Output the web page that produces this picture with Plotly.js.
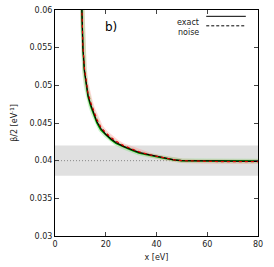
<!DOCTYPE html>
<html><head><meta charset="utf-8">
<script src="https://cdn.plot.ly/plotly-3.0.1.min.js"></script>
<style>html,body{margin:0;padding:0;background:#fff}#chart{width:274px;height:267px}</style>
</head><body><div id="chart"></div>
<script>
const xValues = [10.2, 10.6, 11.0, 11.6, 12.3, 13.0, 14.0, 15.0, 16.5, 18, 20, 22, 24, 27, 30, 33, 37, 42, 47, 50, 55, 60, 65, 70, 75, 80];
const exact   = [0.0650, 0.0600, 0.0550, 0.0520, 0.0500, 0.0487, 0.0475, 0.0465, 0.0452, 0.0443, 0.0435, 0.0429, 0.0424, 0.0419, 0.0415, 0.0411, 0.0408, 0.0404, 0.0401, 0.0400, 0.0400, 0.0399, 0.0399, 0.0399, 0.0399, 0.0399];
const noiseRed   = [0.0652, 0.0602, 0.0553, 0.0523, 0.0503, 0.0490, 0.0478, 0.0468, 0.0455, 0.0445, 0.0437, 0.0431, 0.0426, 0.0420, 0.0416, 0.0412, 0.0408, 0.0404, 0.0401, 0.0400, 0.03993, 0.03988, 0.03987, 0.03988, 0.03987, 0.03988];
const noiseGreen = [0.0648, 0.0598, 0.0548, 0.0518, 0.0498, 0.0485, 0.0473, 0.0463, 0.0450, 0.0441, 0.0434, 0.0428, 0.0423, 0.0418, 0.0414, 0.0410, 0.0407, 0.0404, 0.0401, 0.0400, 0.03998, 0.03996, 0.03996, 0.03997, 0.03997, 0.03997];
const bandX = [0, 80];
const bandLow = [0.038, 0.038];
const bandHigh = [0.042, 0.042];
const refLevel = [0.04, 0.04];
const xTicks = [0, 20, 40, 60, 80];
const yTicks = [0.03, 0.035, 0.04, 0.045, 0.05, 0.055, 0.06];
const yTickText = ["0.03", "0.035", "0.04", "0.045", "0.05", "0.055", "0.06"];
const legendNames = ["exact", "noise"];

const traces = [
  {x: bandX, y: bandLow, mode: 'lines', line: {width: 0}, hoverinfo: 'skip'},
  {x: bandX, y: bandHigh, mode: 'lines', line: {width: 0}, fill: 'tonexty', fillcolor: '#e0e0e0', hoverinfo: 'skip'},
  {x: bandX, y: refLevel, mode: 'lines', line: {color: '#888', width: 1, dash: '1px,2px'}},
  {x: xValues, y: noiseRed, mode: 'lines', line: {color: 'rgba(255,140,140,0.35)', width: 4.5}},
  {x: xValues, y: noiseGreen, mode: 'lines', line: {color: 'rgba(120,220,120,0.35)', width: 4.5}},
  {x: xValues, y: noiseGreen, mode: 'lines', line: {color: '#00a000', width: 1.5}},
  {x: xValues, y: exact, mode: 'lines', line: {color: '#000', width: 1.2}},
  {x: xValues, y: noiseRed, mode: 'lines', line: {color: '#e00000', width: 1.2, dash: '3px,3px'}}
];

const font = {family: 'DejaVu Sans, sans-serif', size: 8, color: '#222'};
const layout = {
  width: 274, height: 267,
  margin: {l: 55, r: 16, t: 10, b: 31},
  showlegend: false,
  plot_bgcolor: '#fff', paper_bgcolor: '#fff',
  font: font,
  xaxis: {range: [0, 80], tickvals: xTicks, ticks: 'inside', ticklen: 4, mirror: 'ticks',
          showline: true, linecolor: '#000', linewidth: 1, showgrid: false, zeroline: false,
          tickfont: font, title: {text: 'x [eV]', font: font, standoff: 6}},
  yaxis: {range: [0.03, 0.06], tickvals: yTicks, ticktext: yTickText, ticks: 'inside', ticklen: 4, mirror: 'ticks',
          showline: true, linecolor: '#000', linewidth: 1, showgrid: false, zeroline: false,
          tickfont: font, title: {text: 'β/2 [eV<sup>-1</sup>]', font: font, standoff: 10}},
  annotations: [
    {xref: 'x', yref: 'y', x: 22, y: 0.0578, text: 'b)', showarrow: false, font: {family: 'DejaVu Sans, sans-serif', size: 12, color: '#000'}},
    {xref: 'paper', yref: 'paper', x: 0.72, y: 0.972, xanchor: 'right', text: legendNames[0], showarrow: false, font: font},
    {xref: 'paper', yref: 'paper', x: 0.72, y: 0.93, xanchor: 'right', text: legendNames[1], showarrow: false, font: font}
  ],
  shapes: [
    {type: 'line', xref: 'paper', yref: 'paper', x0: 0.745, x1: 0.94, y0: 0.972, y1: 0.972, line: {color: '#000', width: 1}},
    {type: 'line', xref: 'paper', yref: 'paper', x0: 0.745, x1: 0.94, y0: 0.93, y1: 0.93, line: {color: '#000', width: 1, dash: '3px,2px'}}
  ]
};
Plotly.newPlot('chart', traces, layout, {staticPlot: true, displayModeBar: false});
</script></body></html>
